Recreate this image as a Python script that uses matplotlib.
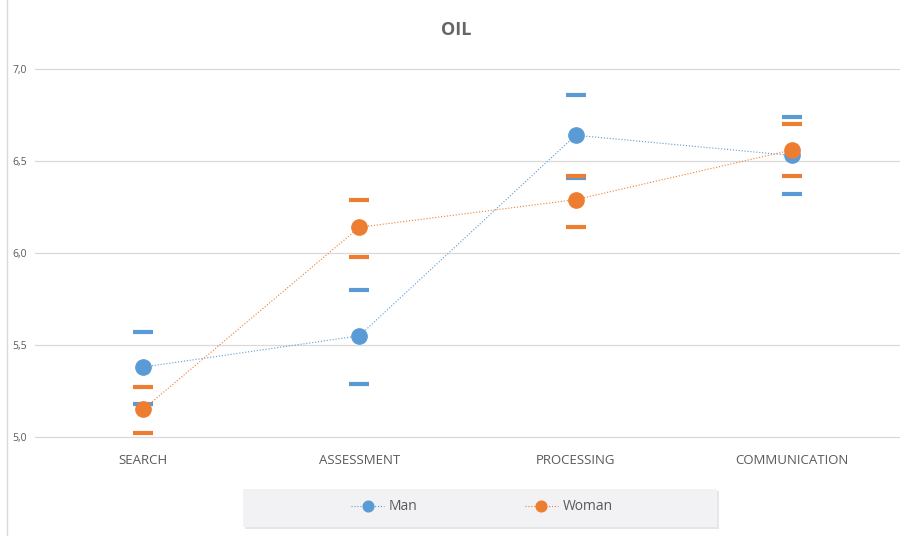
import matplotlib
matplotlib.use("Agg")
from matplotlib import pyplot as plt
from matplotlib.lines import Line2D
from matplotlib.patches import Rectangle
import numpy as np

categories = ["SEARCH", "ASSESSMENT", "PROCESSING", "COMMUNICATION"]
man_mean = [5.38, 5.55, 6.64, 6.53]
man_upper = [5.57, 5.80, 6.86, 6.74]
man_lower = [5.18, 5.29, 6.41, 6.32]
woman_mean = [5.15, 6.14, 6.29, 6.56]
woman_upper = [5.27, 6.29, 6.42, 6.70]
woman_lower = [5.02, 5.98, 6.14, 6.42]
yticks = [5.0, 5.5, 6.0, 6.5, 7.0]

blue = "#5B9BD5"
orange = "#ED7D31"
grey = "#595959"

plt.rcParams['font.family'] = ['Open Sans', 'DejaVu Sans']

fig = plt.figure(figsize=(9, 5.36), dpi=100)
ax = fig.add_axes([35/900, 1-437/536, 865/900, 368/536])
x = np.arange(len(categories))

for lo, hi, c in [(man_lower, man_upper, blue), (woman_lower, woman_upper, orange)]:
    ax.plot(x, hi, ls="none", marker="_", ms=14, mew=3, color=c, zorder=3)
    ax.plot(x, lo, ls="none", marker="_", ms=14, mew=3, color=c, zorder=3)

ax.plot(x, man_mean, ls=":", lw=0.8, color=blue, marker="o", ms=11, label="Man", zorder=4)
ax.plot(x, woman_mean, ls=":", lw=0.8, color=orange, marker="o", ms=11, label="Woman", zorder=5)

ax.set_xlim(-0.5, len(categories) - 0.5)
ax.set_ylim(5, 7)
ax.set_yticks(yticks)
ax.set_yticklabels([("%.1f" % v).replace(".", ",") for v in yticks])
ax.set_xticks(x)
ax.set_xticklabels(categories)
ax.tick_params(axis="y", length=0, labelsize=7.5, labelcolor=grey, pad=6)
ax.tick_params(axis="x", length=0, labelsize=9.5, labelcolor=grey, pad=12)
ax.grid(axis="y", color="#D9D9D9", lw=0.9)
for gl in ax.get_ygridlines():
    gl.set_clip_on(False)
ax.set_axisbelow(True)
for s in ax.spines.values():
    s.set_visible(False)

fig.text(456/900, 1-30/536, "OIL", ha="center", va="center", fontsize=13,
         fontweight="bold", color="#666666")

# chart border on the left
fig.add_artist(Line2D([7/900, 7/900], [0, 1], transform=fig.transFigure, color="#D9D9D9", lw=1))

# legend box
fig.add_artist(Rectangle((245/900, 1-529/536), 474/900, 38/536, transform=fig.transFigure,
                         facecolor="#E6E6E6", edgecolor="none", zorder=0))
fig.add_artist(Rectangle((243/900, 1-527/536), 474/900, 38/536, transform=fig.transFigure,
                         facecolor="#F2F2F4", edgecolor="none", zorder=1))
leg = fig.legend(loc="center", bbox_to_anchor=(482/900, 1-507/536), ncol=2, frameon=False,
                 fontsize=10, labelcolor=grey, columnspacing=7.7, handlelength=2.4,
                 handletextpad=0.35, markerscale=0.7)

fig.savefig("out.png", dpi=100, facecolor="white")
